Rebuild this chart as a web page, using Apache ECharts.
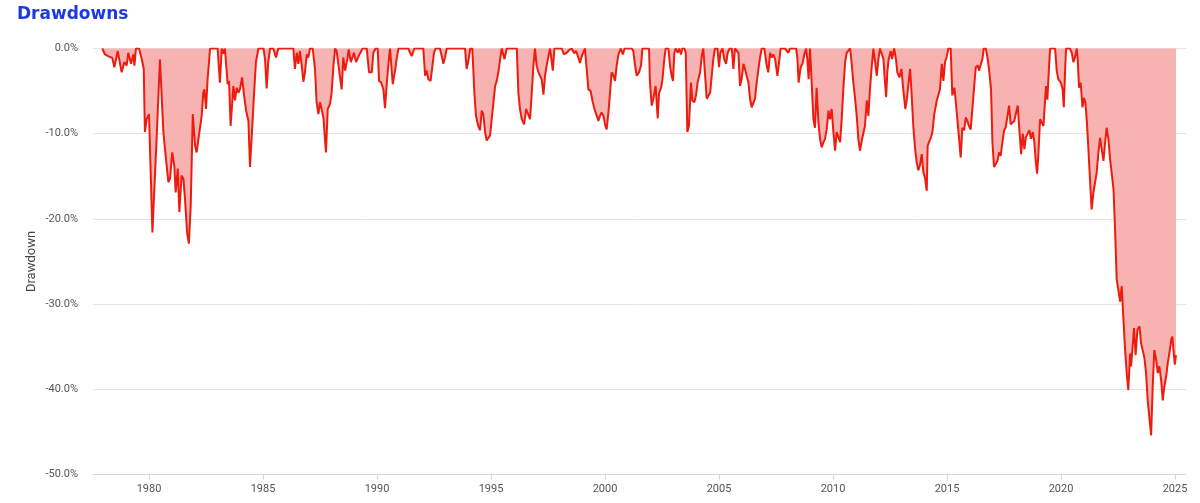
<!DOCTYPE html>
<html>
<head>
<meta charset="utf-8">
<script src="https://cdn.jsdelivr.net/npm/echarts@6/dist/echarts.min.js"></script>
<style>
html,body{margin:0;padding:0;background:#fff;}
#chart{width:1200px;height:503px;}
</style>
</head>
<body>
<div id="chart"></div>
<script>
// Decimal years of each reading
const years = [
1977.95,1978.07,1978.29,1978.39,1978.48,1978.63,1978.80,1978.92,1979.02,1979.09,
1979.21,1979.31,1979.36,1979.43,1979.56,1979.68,1979.77,1979.82,1979.90,1980.00,
1980.15,1980.23,1980.34,1980.48,1980.63,1980.73,1980.85,1980.92,1981.02,1981.11,
1981.17,1981.26,1981.33,1981.43,1981.51,1981.58,1981.67,1981.75,1981.83,1981.92,
1982.02,1982.09,1982.19,1982.31,1982.38,1982.43,1982.50,1982.57,1982.68,1983.01,
1983.11,1983.19,1983.26,1983.33,1983.45,1983.51,1983.58,1983.66,1983.70,1983.77,
1983.85,1983.92,1983.99,1984.08,1984.17,1984.26,1984.36,1984.43,1984.50,1984.61,
1984.69,1984.80,1985.02,1985.09,1985.16,1985.23,1985.31,1985.45,1985.57,1985.67,
1986.33,1986.40,1986.48,1986.55,1986.62,1986.70,1986.77,1986.84,1986.92,1986.99,
1987.06,1987.18,1987.28,1987.35,1987.43,1987.50,1987.57,1987.65,1987.76,1987.84,
1987.94,1988.01,1988.09,1988.16,1988.23,1988.35,1988.45,1988.52,1988.60,1988.70,
1988.76,1988.85,1988.93,1988.99,1989.08,1989.14,1989.23,1989.28,1989.37,1989.55,
1989.65,1989.77,1989.84,1989.94,1990.03,1990.09,1990.18,1990.23,1990.28,1990.35,
1990.42,1990.50,1990.57,1990.61,1990.69,1990.79,1990.86,1990.94,1991.37,1991.52,
1991.64,1992.03,1992.11,1992.18,1992.25,1992.35,1992.43,1992.50,1992.57,1992.76,
1992.84,1992.91,1992.98,1993.06,1993.86,1993.93,1994.01,1994.09,1994.18,1994.27,
1994.34,1994.44,1994.52,1994.59,1994.66,1994.74,1994.81,1994.88,1994.96,1995.03,
1995.10,1995.18,1995.25,1995.32,1995.40,1995.47,1995.59,1995.69,1996.13,1996.20,
1996.27,1996.35,1996.45,1996.54,1996.62,1996.71,1996.78,1996.86,1996.93,1997.00,
1997.08,1997.15,1997.22,1997.30,1997.37,1997.44,1997.52,1997.59,1997.66,1997.71,
1997.78,1998.10,1998.20,1998.32,1998.44,1998.54,1998.64,1998.73,1998.83,1998.90,
1998.98,1999.05,1999.12,1999.20,1999.27,1999.37,1999.46,1999.56,1999.64,1999.71,
1999.78,1999.85,1999.93,2000.00,2000.07,2000.15,2000.22,2000.29,2000.37,2000.44,
2000.51,2000.59,2000.69,2000.78,2000.86,2001.17,2001.24,2001.32,2001.39,2001.49,
2001.58,2001.64,2001.93,2001.97,2002.05,2002.12,2002.22,2002.31,2002.37,2002.46,
2002.52,2002.60,2002.66,2002.78,2002.85,2002.92,2002.98,2003.04,2003.10,2003.19,
2003.25,2003.33,2003.39,2003.48,2003.54,2003.61,2003.68,2003.77,2003.83,2003.92,
2003.99,2004.06,2004.17,2004.24,2004.31,2004.39,2004.46,2004.53,2004.61,2004.68,
2004.75,2004.82,2004.93,2005.00,2005.06,2005.15,2005.23,2005.31,2005.38,2005.47,
2005.56,2005.63,2005.70,2005.78,2005.85,2005.92,2005.99,2006.07,2006.14,2006.21,
2006.29,2006.36,2006.43,2006.51,2006.58,2006.65,2006.73,2006.80,2006.87,2006.99,
2007.09,2007.16,2007.24,2007.31,2007.38,2007.46,2007.56,2007.65,2007.70,2007.89,
2008.04,2008.11,2008.38,2008.44,2008.49,2008.58,2008.66,2008.74,2008.82,2008.87,
2008.93,2008.99,2009.07,2009.14,2009.21,2009.28,2009.36,2009.43,2009.50,2009.58,
2009.65,2009.72,2009.80,2009.87,2009.94,2010.01,2010.09,2010.16,2010.23,2010.31,
2010.38,2010.45,2010.53,2010.60,2010.67,2010.75,2010.82,2010.89,2010.96,2011.04,
2011.11,2011.18,2011.26,2011.33,2011.40,2011.48,2011.55,2011.62,2011.70,2011.77,
2011.84,2011.92,2011.99,2012.06,2012.13,2012.21,2012.28,2012.33,2012.38,2012.44,
2012.53,2012.59,2012.68,2012.76,2012.82,2012.91,2013.00,2013.08,2013.17,2013.23,
2013.30,2013.38,2013.45,2013.52,2013.60,2013.67,2013.74,2013.82,2013.89,2013.96,
2014.04,2014.11,2014.15,2014.21,2014.30,2014.36,2014.44,2014.55,2014.62,2014.69,
2014.77,2014.84,2014.91,2014.99,2015.06,2015.16,2015.23,2015.32,2015.38,2015.45,
2015.53,2015.60,2015.67,2015.75,2015.82,2015.89,2015.96,2016.04,2016.11,2016.18,
2016.26,2016.35,2016.40,2016.48,2016.55,2016.61,2016.70,2016.77,2016.84,2016.93,
2016.99,2017.06,2017.13,2017.21,2017.28,2017.35,2017.43,2017.50,2017.57,2017.65,
2017.72,2017.79,2017.87,2017.95,2018.03,2018.10,2018.17,2018.25,2018.32,2018.39,
2018.46,2018.54,2018.61,2018.68,2018.76,2018.83,2018.89,2018.95,2019.01,2019.08,
2019.15,2019.23,2019.30,2019.34,2019.40,2019.46,2019.52,2019.74,2019.81,2019.88,
2019.99,2020.07,2020.12,2020.18,2020.22,2020.39,2020.47,2020.54,2020.61,2020.69,
2020.73,2020.79,2020.86,2020.94,2021.01,2021.07,2021.13,2021.20,2021.27,2021.34,
2021.42,2021.49,2021.56,2021.64,2021.71,2021.78,2021.86,2021.93,2022.00,2022.08,
2022.15,2022.22,2022.30,2022.37,2022.44,2022.51,2022.59,2022.66,2022.73,2022.81,
2022.88,2022.95,2023.03,2023.07,2023.14,2023.20,2023.27,2023.35,2023.44,2023.51,
2023.58,2023.65,2023.73,2023.80,2023.87,2023.95,2024.02,2024.09,2024.17,2024.24,
2024.31,2024.39,2024.46,2024.53,2024.61,2024.68,2024.75,2024.83,2024.88,2024.93,
2024.99,2025.04
];

// Drawdown (%) at each reading
const drawdown = [
0,-0.7,-1.0,-1.1,-2.2,-0.3,-2.8,-1.6,-2.0,-0.5,
-1.8,-0.7,-2.0,0,0,-1.2,-2.4,-9.8,-8.3,-7.7,
-21.6,-21.4,-10.2,-1.3,-9.8,-12.6,-15.7,-15.3,-12.2,-13.8,
-16.9,-14.1,-19.2,-14.9,-15.3,-17.7,-21.6,-22.9,-18.4,-7.7,
-11.4,-12.2,-10.2,-7.9,-5.2,-4.8,-7.1,-3.6,0,0,
-4.0,0,-0.6,0,-4.2,-3.8,-9.1,-9.3,-4.4,-6.1,
-4.6,-5.2,-4.8,-3.4,-5.5,-7.3,-8.5,-13.9,-10.6,-5.2,
-1.6,0,0,-1.25,-4.7,-1.6,0,0,-1.05,0,
0,-2.4,-0.5,-1.8,-0.3,-2.0,-3.9,-2.8,-0.7,-1.05,
0,0,-2.4,-6.3,-7.7,-6.3,-7.1,-8.1,-12.2,-7.1,
-6.5,-5.2,-2.0,0,-0.3,-2.8,-4.8,-1.05,-2.6,-1.25,
-0.1,-1.6,-1.8,-0.5,-1.6,-1.25,-0.7,-0.5,0,0,
-2.8,-2.8,-0.5,0,0,-3.8,-4.0,-4.4,-4.8,-7.0,
-4.4,-1.8,0,0,-4.2,-2.6,-1.25,0,0,-0.9,
0,0,-3.2,-2.6,-3.6,-3.8,-2.0,-0.5,0,0,
-0.9,-1.8,-1.05,0,0,-2.4,-1.4,0,0,-5.2,
-7.9,-9.1,-9.6,-7.3,-7.7,-9.8,-10.8,-11.0,-10.2,-8.3,
-6.5,-4.4,-3.8,-2.8,-1.25,0,-1.25,0,0,-5.2,
-7.1,-8.3,-8.9,-7.1,-6.9,-8.3,-5.5,-2.0,0,-2.0,
-2.8,-3.0,-3.6,-5.4,-3.2,-2.0,-0.9,0,0,-2.6,
0,0,-0.7,-0.5,-0.15,0,-0.55,-0.3,-1.05,-1.7,
-0.9,-1.05,0,0,-4.8,-5.0,-6.3,-7.3,-7.9,-8.5,
-7.9,-7.5,-7.9,-8.9,-9.5,-7.5,-5.2,-2.8,-3.2,-3.8,
-2.0,-0.7,0,-0.7,0,0,-0.3,-2.0,-3.2,-2.8,
-2.0,0,0,-4.0,-6.7,-5.9,-4.4,-8.2,-5.2,-4.6,
-3.6,-1.25,0,0,-2.0,-3.2,-3.8,-0.5,0,-0.5,
0,-0.7,0,0,-0.5,-9.8,-9.1,-4.0,-6.1,-6.3,
-5.5,-4.0,-2.8,-0.9,0,-3.2,-5.9,-6.1,-5.2,-3.2,
-1.25,0,0,-2.2,-0.5,0,-1.25,-1.8,-0.5,0,
0,-2.4,0,0,-0.5,-4.4,-3.6,-1.8,-2.4,-3.2,
-4.0,-5.9,-6.9,-6.9,-5.9,-4.0,-2.4,-1.05,0,0,
-2.0,-2.8,-0.5,-1.05,-0.7,-1.25,-3.2,-1.25,0,0,
-0.5,0,0,-1.25,-4.0,-2.2,-1.8,-0.7,0,-1.25,
-3.6,0,0,-8.3,-9.3,-4.6,-8.7,-10.6,-11.6,-11.0,
-10.6,-9.5,-7.3,-8.3,-7.1,-9.6,-12.0,-9.8,-10.0,-11.0,
-8.3,-4.8,-1.6,-0.5,-0.5,0,-1.8,-4.0,-5.7,-7.9,
-10.6,-12.0,-10.8,-10.6,-9.1,-6.1,-7.9,-4.8,-2.0,0,
0,-3.2,-1.25,0,0,-1.25,-4.0,-5.7,-2.8,-1.25,
-0.3,-1.25,0,-1.25,-2.8,-3.4,-2.4,-4.8,-7.1,-6.1,
-6.0,-2.4,-5.5,-9.1,-11.8,-13.4,-14.3,-13.6,-12.4,-14.5,
-15.3,-16.7,-11.4,-11.0,-10.4,-9.8,-7.7,-6.1,-5.9,-4.8,
-1.8,-3.8,-1.6,-0.9,0,0,-5.5,-4.6,-6.1,-8.3,
-10.6,-12.8,-9.3,-9.6,-8.1,-8.5,-9.1,-9.5,-9.6,-4.8,
-2.2,-2.0,-2.6,-2.4,-1.25,0,0,-1.0,-2.4,-4.8,
-11.0,-13.9,-13.9,-13.2,-12.2,-12.6,-11.0,-9.6,-9.3,-9.3,
-6.7,-8.9,-8.9,-8.5,-7.5,-6.7,-9.5,-12.4,-10.0,-11.8,
-10.4,-10.2,-9.6,-10.6,-9.8,-11.0,-13.2,-14.7,-12.2,-8.3,
-8.1,-9.1,-6.0,-4.4,-6.0,-2.8,0,0,-2.6,-3.6,
-4.0,-4.8,-6.9,-2.4,0,0,-0.5,-1.6,-1.05,0,
-1.25,-4.6,-4.0,-6.9,-5.8,-6.4,-8.5,-11.8,-15.4,-18.9,
-16.9,-16.7,-14.6,-12.2,-10.5,-10.7,-13.2,-11.1,-9.3,-10.7,
-13.0,-14.6,-16.5,-21.3,-27.1,-28.3,-29.7,-27.9,-31.5,-35.4,
-38.1,-40.1,-35.8,-37.3,-35.0,-32.8,-36.0,-33.0,-32.6,-34.6,
-34.8,-36.2,-38.1,-41.3,-43.2,-45.4,-39.7,-35.4,-36.5,-38.1,
-37.3,-38.9,-41.3,-39.7,-38.5,-36.9,-35.8,-34.2,-33.8,-35.4,
-37.1,-36.0
];

// Axis tick labels
const xTickYears = [1980, 1985, 1990, 1995, 2000, 2005, 2010, 2015, 2020, 2025];
const yTicks = [0, -10, -20, -30, -40, -50];

const seriesData = years.map((y, i) => [y, drawdown[i]]);

const chart = echarts.init(document.getElementById('chart'), null, {renderer: 'canvas'});
chart.setOption({
  animation: false,
  title: {
    text: 'Drawdowns',
    left: 12, top: 1,
    textStyle: {fontFamily: 'DejaVu Sans', fontSize: 17, fontWeight: 'bold', color: '#1c3ae0'}
  },
  grid: {left: 93, right: 14, top: 48.5, bottom: 28.5, containLabel: false},
  xAxis: {
    type: 'value',
    min: 1977.544,
    max: 2025.48,
    axisLine: {onZero: false, lineStyle: {color: '#d4d4d8', width: 1}},
    axisTick: {show: true, length: 5, lineStyle: {color: '#d4d4d8'}, customValues: xTickYears},
    axisLabel: {
      color: '#555', fontFamily: 'Roboto', fontSize: 11, margin: 9,
      customValues: xTickYears,
      formatter: v => String(Math.round(v))
    },
    splitLine: {show: false}
  },
  yAxis: {
    type: 'value',
    min: -50, max: 0, interval: 10,
    name: 'Drawdown',
    nameLocation: 'middle',
    nameGap: 54,
    nameMoveOverlap: false,
    nameTextStyle: {fontFamily: 'Roboto', fontSize: 13, color: '#444', lineHeight: 14},
    axisLine: {show: false},
    axisTick: {show: false},
    axisLabel: {
      color: '#555', fontFamily: 'Roboto', fontSize: 11, margin: 15,
      formatter: v => yTicks.includes(v) ? v.toFixed(1) + '%' : ''
    },
    splitLine: {lineStyle: {color: '#e4e4e7', width: 1}}
  },
  series: [{
    type: 'line',
    data: seriesData,
    showSymbol: false,
    symbol: 'none',
    lineStyle: {color: '#ee1c0e', width: 2},
    itemStyle: {color: '#ee1c0e'},
    areaStyle: {color: '#f7b2b2', opacity: 1},
    z: 3
  }]
});
</script>
</body>
</html>
